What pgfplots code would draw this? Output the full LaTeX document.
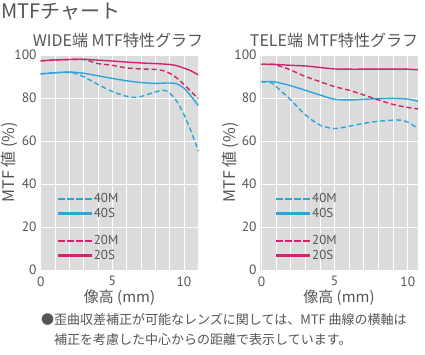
\documentclass[border=0pt]{standalone}
\usepackage{fontspec}
\setmainfont{Noto Sans CJK JP}
\newfontfamily\din{PT Sans}
\usepackage{pgfplots}
\pgfplotsset{compat=1.18}
\definecolor{mcyan}{HTML}{2AA6DA}
\definecolor{mmag}{HTML}{D2236E}
\definecolor{bggray}{HTML}{DCDCDC}
\definecolor{txt}{HTML}{555555}
\pgfplotsset{mtf/.style={
  scale only axis, height=215pt,
  ymin=0, ymax=100, ytick={0,20,...,100},
  xtick={0,5,10}, minor xtick={1,2,3,4,6,7,8,9,11},
  grid=both,
  major grid style={white, line width=0.8pt},
  minor grid style={white, line width=0.8pt},
  axis line style={draw=none},
  major tick length=0pt, minor tick length=0pt,
  axis background/.style={fill=bggray},
  /pgf/number format/assume math mode=true,
  tick label style={font=\din\fontsize{13.5}{14}\selectfont, text=txt},
  xticklabel style={yshift=-3pt},
  xlabel={像高 (mm)}, ylabel={MTF 値 (\%)},
  xlabel style={font=\fontsize{15}{17}\selectfont, text=txt, at={(axis description cs:0.5,-0.13)}, anchor=center},
  ylabel style={font=\fontsize{16}{18}\selectfont, text=txt, at={(axis description cs:-0.19,0.5)}, anchor=center},
  legend style={draw=none, fill=none, anchor=north west,
    font=\din\fontsize{13}{14}\selectfont, text=txt},
  legend cell align=left,
  every axis plot/.append style={line width=1.4pt, smooth},
  m40/.style={color=mcyan, dash pattern=on 5pt off 3pt},
  s40/.style={color=mcyan},
  m20/.style={color=mmag, dash pattern=on 5pt off 3pt},
  s20/.style={color=mmag},
  dashimg/.style={legend image code/.code={\foreach \s in {0,9,18,27} {\fill[##1] (\s pt,-0.65pt) rectangle ++(6pt,1.3pt);}}},
  solidimg/.style={legend image code/.code={\fill[##1] (0pt,-0.65pt) rectangle (33pt,0.65pt);}},
}}
\newcommand{\mtflegend}{%
  \addlegendimage{dashimg, mcyan}\addlegendentry{40M}
  \addlegendimage{solidimg, mcyan}\addlegendentry{40S}
  \addlegendimage{empty legend}\addlegendentry{\rule{0pt}{7pt}}
  \addlegendimage{dashimg, mmag}\addlegendentry{20M}
  \addlegendimage{solidimg, mmag}\addlegendentry{20S}}
\begin{document}
\begin{tikzpicture}
\useasboundingbox (0,0) rectangle (425pt,354pt);
\node[anchor=west, font=\fontsize{20}{24}\selectfont, text=txt, inner sep=0pt] at (1pt,342pt) {MTFチャート};
\node[font=\fontsize{16}{18}\selectfont, text=txt] at (118pt,314pt) {WIDE端 MTF特性グラフ};
\node[font=\fontsize{16}{18}\selectfont, text=txt] at (334pt,314pt) {TELE端 MTF特性グラフ};
\node[anchor=west, font=\fontsize{13}{15}\selectfont, text=txt, inner sep=0pt] at (41pt,34pt) {●歪曲収差補正が可能なレンズに関しては、MTF 曲線の横軸は};
\node[anchor=west, font=\fontsize{13}{15}\selectfont, text=txt, inner sep=0pt] at (54pt,14pt) {補正を考慮した中心からの距離で表示しています。};

\begin{axis}[mtf, width=159pt, xmin=-0.05, xmax=11.05, at={(40pt,84pt)}, anchor=south west,
  legend style={at={(0.09,0.375)}}]
\mtflegend
\addplot[m40, forget plot] coordinates {(0,91.2)(1,91.8)(2,91.9)(2.5,91.2)(3,89.9)(4,86.3)(5,83.0)(6,80.8)(6.5,80.3)(7,80.7)(8,82.8)(8.6,83.6)(9,82.3)(9.5,78.5)(10,72.3)(10.5,64.5)(11,55.3)};
\addplot[s40, forget plot] coordinates {(0,91.2)(1,91.7)(2,92.1)(3,91.5)(4,90.3)(5,89.1)(6,88.0)(7,87.2)(8,86.8)(9,87.0)(9.5,86.6)(10,84.6)(10.5,80.8)(11,76.5)};
\addplot[m20, forget plot] coordinates {(0,97.3)(1,97.7)(2,97.9)(3,97.9)(4,96.0)(5,95.2)(6,94.0)(7,93.5)(8,93.3)(8.5,92.8)(9,91.5)(9.5,89.3)(10,86.3)(10.5,83.0)(11,79.8)};
\addplot[s20, forget plot] coordinates {(0,97.3)(1,97.7)(2,97.9)(3,98.0)(4,97.6)(5,97.2)(6,96.7)(7,96.3)(8,96.0)(9,95.6)(9.5,95.0)(10,93.9)(10.5,92.6)(11,90.7)};
\end{axis}

\begin{axis}[mtf, width=158pt, xmin=-0.1, xmax=10.7, at={(260pt,84pt)}, anchor=south west,
  legend style={at={(0.08,0.375)}}]
\mtflegend
\addplot[m40, forget plot] coordinates {(0,87.6)(0.7,87.0)(1,85.3)(1.5,82.3)(2,79.1)(3,72.2)(4,67.4)(5,65.8)(6,66.9)(7,68.2)(8,69.2)(9,69.7)(9.5,69.7)(10,68.8)(10.7,65.8)};
\addplot[s40, forget plot] coordinates {(0,87.6)(0.8,87.6)(1.5,86.6)(2,85.7)(3,83.6)(4,81.4)(5,79.4)(6,79.1)(7,79.4)(8,79.7)(9,79.8)(10,79.5)(10.7,78.5)};
\addplot[m20, forget plot] coordinates {(0,95.7)(0.8,95.6)(1.5,94.3)(2,93.0)(3,90.0)(4,87.6)(5,85.3)(6,83.6)(7,81.4)(8,79.1)(9,77.0)(10,75.6)(10.7,74.9)};
\addplot[s20, forget plot] coordinates {(0,95.7)(1,95.6)(2,95.2)(3,94.9)(4,94.2)(5,93.5)(6,93.4)(7,93.4)(8,93.4)(9,93.4)(10,93.4)(10.7,93.1)};
\end{axis}
\end{tikzpicture}
\end{document}
